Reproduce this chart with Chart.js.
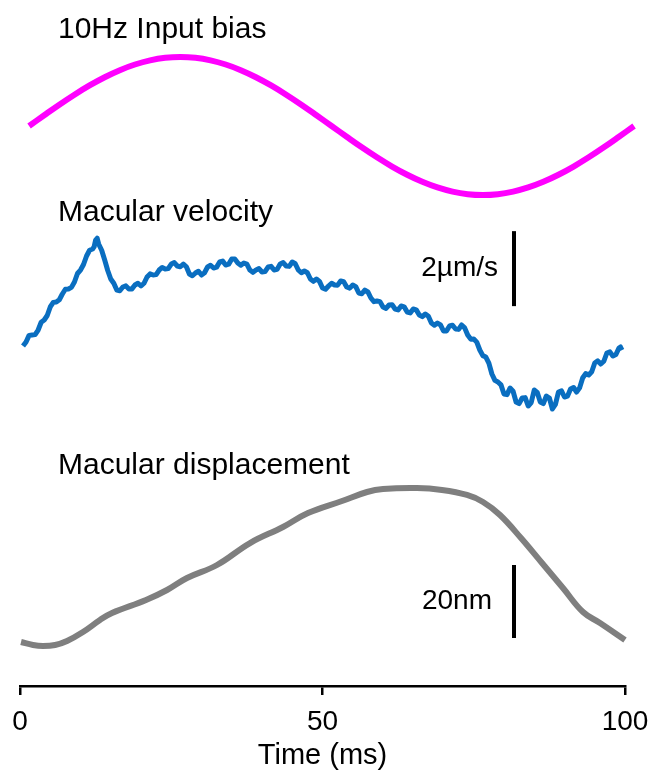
<!DOCTYPE html>
<html>
<head>
<meta charset="utf-8">
<script src="https://cdn.jsdelivr.net/npm/chart.js@4"></script>
<style>
html,body{margin:0;padding:0;background:#fff;}
#wrap{width:652px;height:773px;position:relative;}
</style>
</head>
<body>
<div id="wrap"><canvas id="c"></canvas></div>
<script>
// ---- Data ----
const xTicks = [0, 50, 100];
const xTitle = 'Time (ms)';
const traceTitles = ['10Hz Input bias', 'Macular velocity', 'Macular displacement'];

// 10 Hz input bias (normalised)
const biasTime = [1.5,4,6.5,9,11.5,14,16.5,19,21.5,24,26.5,29,31.5,34,36.5,39,41.5,44,46.5,49,51.5,54,56.5,59,61.5,64,66.5,69,71.5,74,76.5,79,81.5,84,86.5,89,91.5,94,96.5,99,101.5];
const biasValue = [0,0.156,0.309,0.454,0.588,0.707,0.809,0.891,0.951,0.988,1,0.988,0.951,0.891,0.809,0.707,0.588,0.454,0.309,0.156,0,-0.156,-0.309,-0.454,-0.588,-0.707,-0.809,-0.891,-0.951,-0.988,-1,-0.988,-0.951,-0.891,-0.809,-0.707,-0.588,-0.454,-0.309,-0.156,0];

// Macular velocity (µm/s, arbitrary offset)
const velTime = [0.5,1,1.5,2,2.5,3,3.5,4,4.5,5,5.5,6,6.5,7,7.5,8,8.5,9,9.5,10,10.5,11,11.5,12,12.25,12.5,12.75,
  13,13.5,14,14.5,15,15.5,16,16.5,17,17.5,18,18.5,19,19.5,20,20.5,21,21.5,22,22.5,23,23.5,24,24.5,25,25.5,26,26.5,27,27.5,28,28.5,29,29.5,
  30,30.5,31,31.5,32,32.5,33,33.5,34,34.5,35,35.5,36,36.5,37,37.5,38,38.5,39,39.5,40,40.5,41,41.5,42,42.5,43,43.5,44,44.5,45,45.5,46,46.5,47,47.5,48,48.5,49,49.5,
  50,50.5,51,51.5,52,52.5,53,53.5,54,54.5,55,55.5,56,56.5,57,57.5,58,58.5,59,59.5,60,60.5,61,61.5,62,62.5,63,63.5,64,64.5,65,65.5,66,66.5,67,67.5,68,68.5,69,69.5,
  70,70.5,71,71.5,72,72.5,73,73.5,74,74.5,75,75.5,76,76.5,77,77.5,78,78.5,79,79.5,80,80.5,81,81.5,82,82.5,83,83.5,84,84.5,85,85.5,86,86.5,87,87.5,88,88.5,89,89.5,
  90,90.5,91,91.5,92,92.5,93,93.5,94,94.5,95,95.5,96,96.5,97,97.5,98,98.5,99,99.25,99.5];
const velValue = [1.707,1.813,1.99,2.0,2.01,2.133,2.34,2.4,2.52,2.747,2.87,2.88,2.94,3.093,3.22,3.227,3.27,3.413,3.64,3.733,3.88,4.107,4.26,4.293,4.35,4.533,4.58,
  4.427,4.26,4.0,3.72,3.493,3.38,3.2,3.18,3.28,3.31,3.227,3.23,3.333,3.38,3.307,3.38,3.547,3.63,3.6,3.61,3.733,3.80,3.76,3.77,3.893,3.93,3.84,3.82,3.893,3.82,3.627,3.58,3.653,3.70,
  3.6,3.66,3.813,3.86,3.787,3.81,3.947,3.97,3.867,3.89,4.027,4.03,3.92,3.86,3.92,3.89,3.733,3.67,3.733,3.77,3.68,3.69,3.813,3.83,3.733,3.75,3.893,3.93,3.84,3.83,3.947,3.90,3.733,3.66,3.707,3.66,3.493,3.43,3.493,3.43,
  3.253,3.22,3.307,3.38,3.333,3.33,3.44,3.42,3.28,3.25,3.333,3.29,3.12,3.10,3.2,3.15,2.987,2.89,2.907,2.89,2.747,2.71,2.8,2.81,2.693,2.67,2.773,2.75,2.613,2.59,2.693,2.67,2.533,2.49,2.56,2.50,2.32,2.26,2.32,2.27,
  2.107,2.11,2.24,2.26,2.16,2.15,2.267,2.19,2.0,1.89,1.893,1.81,1.6,1.45,1.413,1.25,0.96,0.79,0.747,0.67,0.427,0.41,0.587,0.50,0.213,0.17,0.32,0.33,0.107,0.20,0.533,0.47,0.213,0.17,0.373,0.32,0.027,0.15,0.48,0.51,
  0.347,0.37,0.56,0.60,0.48,0.59,0.853,0.97,0.933,1.02,1.253,1.31,1.227,1.30,1.52,1.55,1.44,1.48,1.653,1.68,1.6];

// Macular displacement (nm, arbitrary offset)
const dispTime = [0.17,2.15,3.8,5.8,7.77,10.41,13.22,15.21,20.83,24.3,27.6,32.56,38.02,43.47,47.6,53.22,57.36,60.0,65.62,69.75,73.88,76.53,79.34,82.81,86.28,89.75,93.06,95.87,100.0];
const dispValue = [4.93,4.11,3.84,4.11,5.21,7.67,10.96,12.88,16.44,19.18,22.47,26.03,32.05,36.44,40.27,43.56,46.03,46.85,47.12,46.58,45.21,43.29,39.73,33.42,26.58,19.73,13.15,10.14,5.48];

// Scale bars
const velBarLabel = '2µm/s';
const velBarSize = 2;      // µm/s
const dispBarLabel = '20nm';
const dispBarSize = 20;    // nm
const barTime = 81.65;
const velBarBase = 2.77;
const dispBarBase = 6.03;

// ---- Build chart ----
const pts = (xs, ys) => xs.slice(0, Math.min(xs.length, ys.length)).map((x, i) => ({x: x, y: ys[i]}));
const FONT = "'Liberation Sans', Arial, sans-serif";

const textPlugin = {
  id: 'traceText',
  afterDatasetsDraw(chart) {
    const ctx = chart.ctx;
    const xs = chart.scales.x;
    ctx.save();
    ctx.fillStyle = '#000';
    ctx.font = '30px ' + FONT;
    ctx.textBaseline = 'alphabetic';
    ctx.textAlign = 'left';
    ctx.fillText(traceTitles[0], 58, 38);
    ctx.fillText(traceTitles[1], 58, 221);
    ctx.fillText(traceTitles[2], 58, 474);
    // scale bar labels
    ctx.font = '28px ' + FONT;
    ctx.textAlign = 'right';
    ctx.textBaseline = 'middle';
    const bx = xs.getPixelForValue(barTime);
    const yv = chart.scales.yv;
    const yd = chart.scales.yd;
    ctx.fillText(velBarLabel, bx - 16, (yv.getPixelForValue(velBarBase) + yv.getPixelForValue(velBarBase + velBarSize)) / 2);
    ctx.fillText(dispBarLabel, bx - 22, (yd.getPixelForValue(dispBarBase) + yd.getPixelForValue(dispBarBase + dispBarSize)) / 2);
    ctx.restore();
  }
};

new Chart(document.getElementById('c'), {
  type: 'line',
  data: {
    datasets: [
      {data: pts(biasTime, biasValue), yAxisID: 'yb', borderColor: '#FF00FF', borderWidth: 6, tension: 0.4, pointRadius: 0, clip: false},
      {data: pts(velTime, velValue), yAxisID: 'yv', borderColor: '#0A6EC0', borderWidth: 5, tension: 0, borderJoinStyle: 'round', pointRadius: 0, clip: false},
      {data: pts(dispTime, dispValue), yAxisID: 'yd', borderColor: '#7F7F7F', borderWidth: 6, tension: 0.4, pointRadius: 0, clip: false},
      {data: [{x: barTime, y: velBarBase}, {x: barTime, y: velBarBase + velBarSize}], yAxisID: 'yv', borderColor: '#000', borderWidth: 4, pointRadius: 0, clip: false},
      {data: [{x: barTime, y: dispBarBase}, {x: barTime, y: dispBarBase + dispBarSize}], yAxisID: 'yd', borderColor: '#000', borderWidth: 4, pointRadius: 0, clip: false}
    ]
  },
  options: {
    responsive: true,
    maintainAspectRatio: false,
    animation: false,
    devicePixelRatio: 1,
    layout: {padding: {top: 10, left: 20, right: 27, bottom: 0}},
    plugins: {legend: {display: false}, tooltip: {enabled: false}},
    scales: {
      x: {
        type: 'linear', min: 0, max: 100,
        afterBuildTicks: (s) => { s.ticks = xTicks.map(v => ({value: v})); },
        afterFit: (s) => { s.height = 87; s.paddingLeft = 0; s.paddingRight = 0; },
        border: {display: true, color: '#000', width: 2.5},
        grid: {drawOnChartArea: false, drawTicks: true, tickLength: 9, color: '#000', lineWidth: 2.5},
        ticks: {color: '#000', font: {family: FONT, size: 28}, padding: 10, maxRotation: 0},
        title: {display: true, text: xTitle, color: '#000', font: {family: FONT, size: 29}, padding: 0}
      },
      yb: {type: 'linear', display: false, min: -8.116, max: 1.681},
      yv: {type: 'linear', display: false, min: -7.36, max: 10.667},
      yd: {type: 'linear', display: false, min: -7.12, max: 178.08}
    }
  },
  plugins: [textPlugin]
});
</script>
</body>
</html>
